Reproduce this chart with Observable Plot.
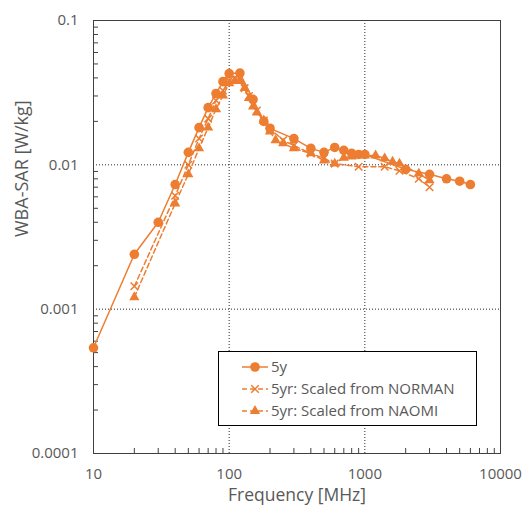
<!DOCTYPE html>
<html><head><meta charset="utf-8">
<script src="https://cdn.jsdelivr.net/npm/d3@7"></script>
<script src="https://cdn.jsdelivr.net/npm/@observablehq/plot@0.6"></script>
<style>body{margin:0;background:#fff}</style>
</head><body><div id="chart"></div>
<script>
// ---- data ----
const freq5y = [10, 20, 30, 40, 50, 60, 70, 80, 90, 100, 120, 150, 180, 200, 300, 400, 500, 600, 700, 800, 900, 1000, 2000, 3000, 4000, 5000, 6000];
const sar5y  = [0.00054, 0.0024, 0.0040, 0.0073, 0.0122, 0.0181, 0.0249, 0.0312, 0.0377, 0.0429, 0.0432, 0.0284, 0.0200, 0.0179, 0.0152, 0.0130, 0.0122, 0.0132, 0.0126, 0.0120, 0.0118, 0.0118, 0.0093, 0.0086, 0.0080, 0.0077, 0.0073];

const freqNorman = [20, 40, 50, 60, 70, 80, 90, 100, 110, 120, 130, 140, 150, 160, 180, 200, 250, 300, 400, 500, 600, 900, 1400, 1800, 2500, 3000];
const sarNorman  = [0.00144, 0.0061, 0.0100, 0.0152, 0.0209, 0.0279, 0.0327, 0.0384, 0.0400, 0.0400, 0.0340, 0.0300, 0.0260, 0.0238, 0.0203, 0.0178, 0.0148, 0.0136, 0.0120, 0.0111, 0.0102, 0.0097, 0.0097, 0.0091, 0.0080, 0.0070];

const freqNaomi = [20, 40, 50, 60, 70, 80, 90, 100, 110, 120, 130, 140, 150, 160, 180, 200, 220, 250, 300, 400, 500, 600, 700, 800, 1000, 1200, 1400, 1600, 1800, 2500, 3000];
const sarNaomi  = [0.00121, 0.0054, 0.0086, 0.0130, 0.0181, 0.0243, 0.0302, 0.0367, 0.0380, 0.0380, 0.0340, 0.0290, 0.0253, 0.0230, 0.0203, 0.0170, 0.0148, 0.0141, 0.0130, 0.0120, 0.0107, 0.0102, 0.0112, 0.0114, 0.0116, 0.0116, 0.0111, 0.0105, 0.0102, 0.0087, 0.0078];

const xTicks = [10, 100, 1000, 10000];
const yTicks = [0.0001, 0.001, 0.01, 0.1];
const xGrid = [100, 1000];
const yGrid = [0.001, 0.01];
const legendLabels = ["5y", "5yr: Scaled from NORMAN", "5yr: Scaled from NAOMI"];
const xLabel = "Frequency [MHz]";
const yLabel = "WBA-SAR [W/kg]";

// minor ticks (2..9 in each decade)
const minorX = [], minorY = [];
for (const d of [10, 100, 1000]) for (let m = 2; m <= 9; m++) minorX.push(d * m);
for (const d of [0.0001, 0.001, 0.01]) for (let m = 2; m <= 9; m++) minorY.push(+(d * m).toPrecision(3));

const toRows = (fs, vs) => fs.map((f, i) => ({f, v: vs[i]}));
const s5y = toRows(freq5y, sar5y);
const sNorman = toRows(freqNorman, sarNorman);
const sNaomi = toRows(freqNaomi, sarNaomi);

const orange = "#ED7D31";
const gray = "#595959";
const W = 524, H = 508, mL = 93, mR = 24, mT = 20, mB = 55;

const plot = Plot.plot({
  width: W, height: H,
  marginLeft: mL, marginRight: mR, marginTop: mT, marginBottom: mB,
  style: {fontFamily: "'Open Sans', sans-serif", fontSize: "15px", color: gray, background: "#fff"},
  x: {type: "log", domain: [10, 10000]},
  y: {type: "log", domain: [0.0001, 0.1]},
  marks: [
    Plot.gridX(xGrid, {stroke: "#000", strokeOpacity: 0.85, strokeDasharray: "1,2"}),
    Plot.gridY(yGrid, {stroke: "#000", strokeOpacity: 0.85, strokeDasharray: "1,2"}),
    Plot.tickX(minorX, {x: d => d, insetTop: (H - mT - mB) - 5, stroke: "#404040"}),
    Plot.tickY(minorY, {y: d => d, insetRight: (W - mL - mR) - 5, stroke: "#404040"}),
    Plot.frame({stroke: "#404040"}),
    Plot.axisX(xTicks, {tickSize: 0, tickPadding: 15, tickFormat: d => String(d), label: null, fill: gray}),
    Plot.axisY(yTicks, {tickSize: 0, tickPadding: 15, tickFormat: d => String(d), label: null, fill: gray}),
    Plot.line(sNorman, {x: "f", y: "v", stroke: orange, strokeWidth: 1.5, strokeDasharray: "5,3"}),
    Plot.dot(sNorman, {x: "f", y: "v", symbol: "times", stroke: orange, strokeWidth: 1.5, r: 3.5}),
    Plot.line(sNaomi, {x: "f", y: "v", stroke: orange, strokeWidth: 1.5, strokeDasharray: "5,3"}),
    Plot.dot(sNaomi, {x: "f", y: "v", symbol: "triangle", fill: orange, r: 3.8}),
    Plot.line(s5y, {x: "f", y: "v", stroke: orange, strokeWidth: 1.5}),
    Plot.dot(s5y, {x: "f", y: "v", symbol: "circle", fill: orange, r: 4.8}),
    Plot.text([xLabel], {text: d => d, frameAnchor: "bottom", dy: 47, fontSize: 17.5, fill: gray}),
    Plot.text([yLabel], {text: d => d, frameAnchor: "left", dx: -71, rotate: -90, fontSize: 18, fill: gray})
  ]
});

// legend box inside the plot
const svg = d3.select(plot);
const lg = svg.append("g").attr("text-anchor", "start");
lg.append("rect").attr("x", 218.5).attr("y", 351.5).attr("width", 258).attr("height", 74)
  .attr("fill", "#fff").attr("stroke", "#000").attr("stroke-width", 1);
const symbols = [d3.symbolCircle, d3.symbolTimes, d3.symbolTriangle];
const radii = [4.8, 3.5, 3.8];
const rowY = [367, 389, 411];
legendLabels.forEach((label, i) => {
  const y = rowY[i];
  lg.append("line").attr("x1", 242).attr("x2", 268).attr("y1", y).attr("y2", y)
    .attr("stroke", orange).attr("stroke-width", 1.5)
    .attr("stroke-dasharray", i === 0 ? null : "5,3");
  const sym = lg.append("path").attr("transform", `translate(255,${y})`)
    .attr("d", d3.symbol(symbols[i], Math.PI * radii[i] * radii[i])());
  if (i === 1) sym.attr("fill", "none").attr("stroke", orange).attr("stroke-width", 1.5);
  else sym.attr("fill", orange);
  lg.append("text").attr("x", 271).attr("y", y).attr("dy", "0.35em")
    .attr("text-anchor", "start")
    .attr("fill", gray).attr("font-size", 15).text(label);
});

document.getElementById("chart").appendChild(plot);
</script>
</body></html>
